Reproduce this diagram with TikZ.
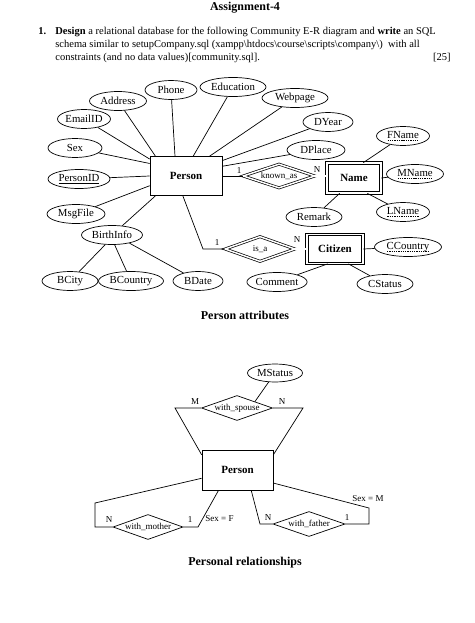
\documentclass[tikz,border=0pt]{standalone}
\usepackage{fontspec}
\setmainfont{Liberation Serif}
\usetikzlibrary{shapes.geometric,calc}
\newsavebox\myulbox
\newcommand\mydashul[1]{\sbox\myulbox{#1}\leavevmode\rlap{\usebox\myulbox}\raisebox{-2pt}{\hbox to \wd\myulbox{\xleaders\hbox to 2.2pt{\hss\rule{1.3pt}{0.4pt}\hss}\hfill}}}
\newcommand\mysolidul[1]{\sbox\myulbox{#1}\leavevmode\rlap{\usebox\myulbox}\raisebox{-2pt}{\rule{\wd\myulbox}{0.5pt}}}
\begin{document}
\begin{tikzpicture}[x=1pt,y=-1pt,
 every path/.style={line width=0.7pt},
 attr/.style={ellipse,draw,inner sep=0pt,minimum height=19pt,font=\fontsize{10.8}{12}\selectfont},
 ent/.style={rectangle,draw,inner sep=0pt,font=\bfseries\fontsize{11}{13}\selectfont},
 went/.style={ent,double,double distance=1.8pt},
 rel/.style={diamond,draw,aspect=3,inner sep=0pt,font=\fontsize{9}{10}\selectfont},
 wrel/.style={rel,double,double distance=1.5pt},
 card/.style={inner sep=0pt,font=\fontsize{9}{10}\selectfont},
 para/.style={anchor=base west,inner sep=0pt,font=\fontsize{10.5}{13}\selectfont},
 caption/.style={inner sep=0pt,font=\bfseries\fontsize{12}{14}\selectfont}
]
\useasboundingbox[fill=white] (0,0) rectangle (474,623);

% header
\node[caption] (title) at (245,8) {Assignment-4};
\node[para,font=\bfseries\fontsize{10.5}{13}\selectfont] (num) at (38,35) {1.};
\node[para] (l1) at (55,35) {\textbf{Design} a relational database for the following Community E-R diagram and \textbf{write} an SQL};
\node[para] (l2) at (55,48) {schema similar to setupCompany.sql (xampp\textbackslash htdocs\textbackslash course\textbackslash scripts\textbackslash company\textbackslash)\ \ with all};
\node[para] (l3) at (55,61) {constraints (and no data values)[community.sql].};
\node[para,anchor=base east] (marks) at (451,61) {[25]};

% ---------- Person attributes ----------
\node[ent,minimum width=72pt,minimum height=39pt] (person) at (186,176) {Person};

\node[attr,minimum width=52pt] (phone) at (171,90) {Phone};
\node[attr,minimum width=66pt] (education) at (233,87) {Education};
\node[attr,minimum width=57pt] (address) at (118,101) {Address};
\node[attr,minimum width=66pt] (webpage) at (295,98) {Webpage};
\node[attr,minimum width=53pt] (email) at (84,119) {EmailID};
\node[attr,minimum width=50pt] (dyear) at (328,122) {DYear};
\node[attr,minimum width=54pt] (sex) at (75,148) {Sex};
\node[attr,minimum width=58pt] (dplace) at (316,150) {DPlace};
\node[attr,minimum width=62pt] (pid) at (79,179) {\mysolidul{PersonID}};
\node[attr,minimum width=58pt] (msg) at (76,214) {MsgFile};
\node[attr,minimum width=61pt] (birth) at (112,235) {BirthInfo};
\node[attr,minimum width=56pt] (bcity) at (70,281) {BCity};
\node[attr,minimum width=65pt] (bcountry) at (131,281) {BCountry};
\node[attr,minimum width=50pt] (bdate) at (198,281) {BDate};

\draw (person.119) -- (phone);
\draw (person.70) -- (education);
\draw (person.147) -- (address);
\draw (person.40) -- (webpage);
\draw (person.155) -- (email);
\draw (person.23) -- (dyear);
\draw (person.161) -- (sex);
\draw (person.15) -- (dplace);
\draw (person.west) -- (pid);
\draw (person.195) -- (msg);
\draw (person.213) -- (birth);
\draw (birth.235) -- (bcity);
\draw (birth.285) -- (bcountry);
\draw (birth.335) -- (bdate);

% known_as / Name
\node[wrel,minimum width=72pt,minimum height=24pt] (known) at (279,176) {known\_as};
\node[went,minimum width=54pt,minimum height=30pt] (name) at (354,178) {Name};
\draw (person.east) -- (known.west);
\draw[double,double distance=1.5pt] (known.east) -- (name.west |- known.east);
\node[card] (k1) at (239,171) {1};
\node[card] (kn) at (317,170) {N};

\node[attr,minimum width=53pt] (fname) at (403,136) {\mydashul{FName}};
\node[attr,minimum width=57pt] (mname) at (415,174) {\mydashul{MName}};
\node[attr,minimum width=53pt] (lname) at (403,212) {\mydashul{LName}};
\node[attr,minimum width=56pt] (remark) at (314,217) {Remark};
\draw (name.59) -- (fname);
\draw (name.east) -- (mname);
\draw (name.311) -- (lname);
\draw (name.227) -- (remark);

% is_a / Citizen
\node[wrel,minimum width=70pt,minimum height=25pt] (isa) at (260,249) {is\_a};
\node[went,minimum width=56pt,minimum height=29pt] (citizen) at (335,249) {Citizen};
\coordinate (isabend) at (203,249);
\draw (person.261) -- (isabend) -- (isa.west);
\draw[double,double distance=1.5pt] (isa.east) -- (citizen.west);
\node[card] (i1) at (217,243) {1};
\node[card] (in) at (297,240) {N};

\node[attr,minimum width=67pt] (ccountry) at (408,247) {\mydashul{CCountry}};
\node[attr,minimum width=53pt] (comment) at (277,282) {Comment};
\node[attr,minimum width=56pt] (cstatus) at (385,284) {CStatus};
\draw (citizen.east) -- (ccountry);
\draw (citizen.244) -- (comment);
\draw (citizen.312) -- (cstatus);

\node[caption] (cap1) at (245,315) {Person attributes};

% ---------- Personal relationships ----------
\node[ent,minimum width=71pt,minimum height=40pt] (p2) at (237.5,470) {Person};
\node[attr,minimum width=55pt,minimum height=18pt] (mstatus) at (275,373) {MStatus};
\node[rel,minimum width=71pt,minimum height=25pt] (spouse) at (237,408) {with\_spouse};
\draw (spouse.north east) -- (mstatus);
\coordinate (sl) at (175,408);
\coordinate (sr) at (303,408);
\draw (spouse.west) -- (sl) -- (p2.157);
\draw (spouse.east) -- (sr) -- (p2.23);
\node[card] (sm) at (195,402) {M};
\node[card] (sn) at (282,402) {N};

\node[rel,minimum width=70pt,minimum height=25pt] (mother) at (148,527) {with\_mother};
\coordinate (ma) at (95,503);
\coordinate (mb) at (95,527);
\coordinate (mc) at (198,527);
\draw (p2.193) -- (ma) -- (mb) -- (mother.west);
\draw (mother.east) -- (mc) -- (p2.227);
\node[card] (mn) at (109,520) {N};
\node[card] (m1) at (190,520) {1};
\node[card] (sexf) at (219.5,519) {Sex = F};

\node[rel,minimum width=72pt,minimum height=25pt] (father) at (309,524) {with\_father};
\coordinate (fa) at (260,524);
\coordinate (fb) at (369,524);
\coordinate (fc) at (369,508);
\draw (p2.304) -- (fa) -- (father.west);
\draw (father.east) -- (fb) -- (fc) -- (p2.340);
\node[card] (fn) at (268,518) {N};
\node[card] (f1) at (347,518) {1};
\node[card] (sexm) at (368,499) {Sex = M};

\node[caption] (cap2) at (245,563) {Personal relationships};
\end{tikzpicture}
\end{document}
